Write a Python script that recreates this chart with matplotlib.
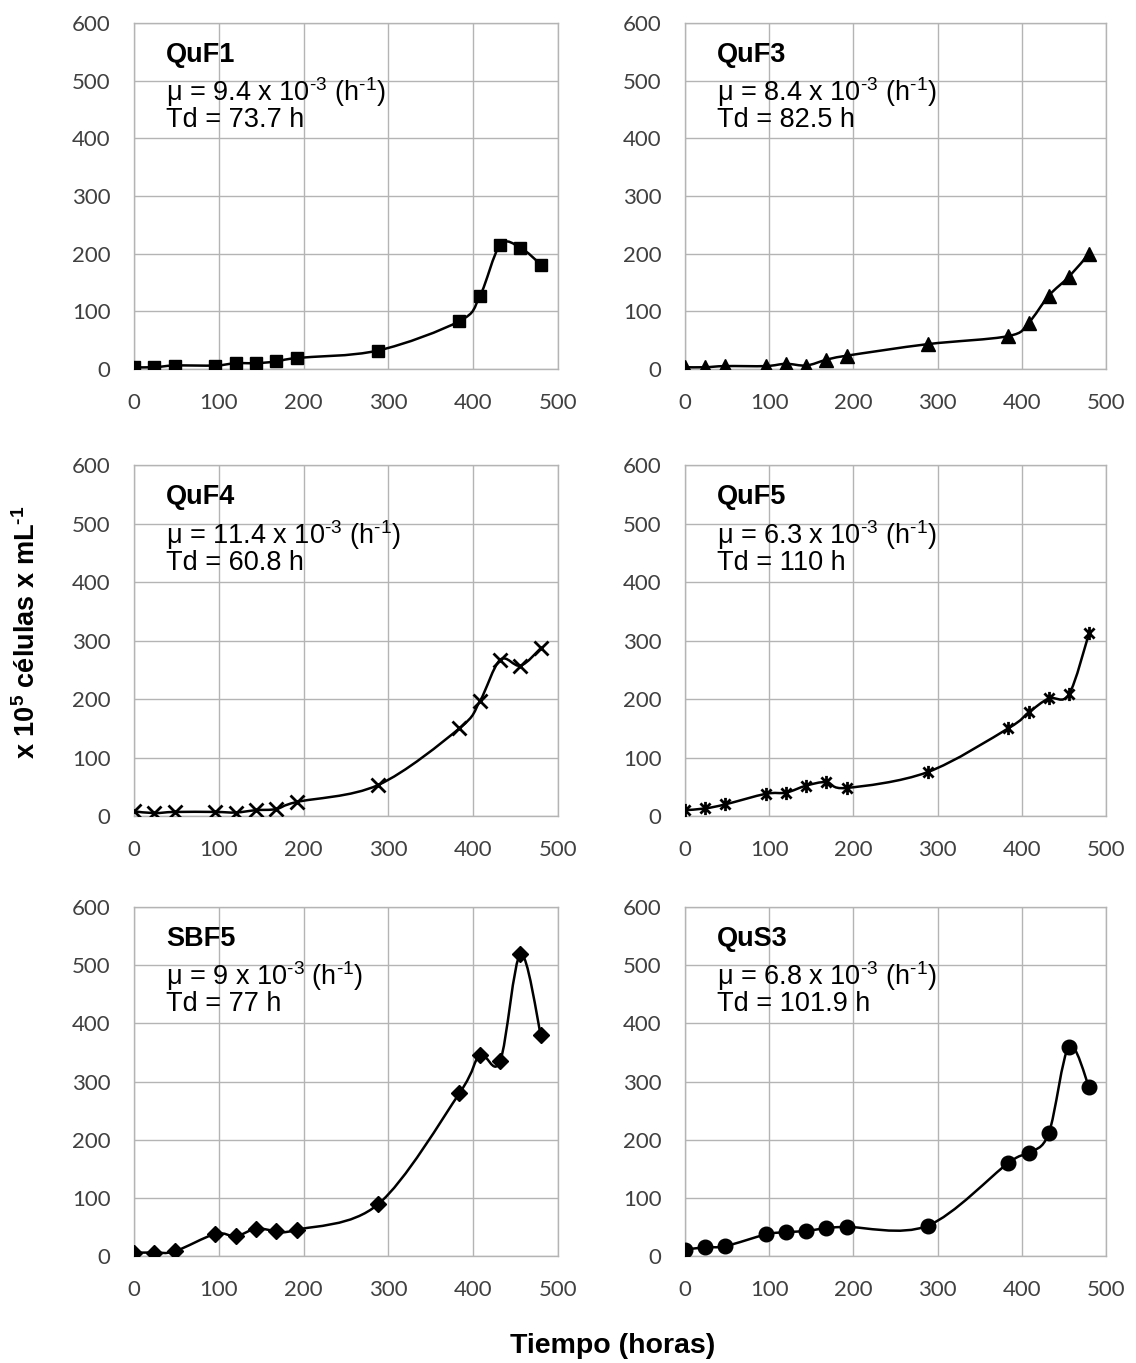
import numpy as np
import matplotlib
matplotlib.use("Agg")
import matplotlib.pyplot as plt
from matplotlib.path import Path
from matplotlib.patches import PathPatch

plt.rcParams["font.family"] = ["Liberation Sans", "DejaVu Sans"]
plt.rcParams["mathtext.fontset"] = "custom"
plt.rcParams["mathtext.rm"] = "Liberation Sans"
plt.rcParams["mathtext.it"] = "Liberation Sans:italic"
plt.rcParams["mathtext.bf"] = "Liberation Sans:bold"

# sampling times (hours)
horas = [0, 24, 48, 96, 120, 144, 168, 192, 288, 384, 408, 432, 456, 480]

# cell counts (x 10^5 cells / mL) per strain
quf1 = [3, 3, 6, 6, 10, 10, 13, 19, 32, 83, 126, 215, 210, 181]
quf3 = [3, 3, 5, 5, 9, 6, 16, 23, 43, 57, 80, 127, 160, 200]
quf4 = [8, 5, 7, 7, 6, 10, 12, 24, 53, 150, 196, 267, 257, 287]
quf5 = [10, 13, 20, 38, 40, 52, 58, 48, 75, 150, 177, 201, 208, 313]
sbf5 = [6, 6, 8, 38, 34, 47, 43, 45, 89, 280, 345, 335, 519, 380]
qus3 = [11, 15, 17, 37, 41, 43, 48, 50, 52, 160, 177, 211, 360, 290]

cepas = ["QuF1", "QuF3", "QuF4", "QuF5", "SBF5", "QuS3"]
mu = ["9.4", "8.4", "11.4", "6.3", "9", "6.8"]
td = ["73.7", "82.5", "60.8", "110", "77", "101.9"]
series = [quf1, quf3, quf4, quf5, sbf5, qus3]

# asterisk marker: an x crossed by a vertical bar
star = Path([(-1, -1), (1, 1), (-1, 1), (1, -1), (0, -1.3), (0, 1.3)],
            [Path.MOVETO, Path.LINETO, Path.MOVETO, Path.LINETO, Path.MOVETO, Path.LINETO])
marcadores = [("s", 8.5), ("^", 9.5), ("x", 9.5), (star, 9.5), ("D", 8), ("o", 10.5)]

HY = "\u2010"  # short hyphen for the superscripts


def smooth_path(x, y):
    # Catmull-Rom style bezier segments through the data points
    x = np.asarray(x, float)
    y = np.asarray(y, float)
    pts = np.column_stack([x, y])
    n = len(pts)
    verts = [pts[0]]
    codes = [Path.MOVETO]
    for i in range(n - 1):
        p0 = pts[i - 1] if i > 0 else pts[i]
        p1 = pts[i]
        p2 = pts[i + 1]
        p3 = pts[i + 2] if i + 2 < n else pts[i + 1]
        c1 = p1 + (p2 - p0) / 6.0
        c2 = p2 - (p3 - p1) / 6.0
        verts += [c1, c2, p2]
        codes += [Path.CURVE4] * 3
    return Path(verts, codes)


fig = plt.figure(figsize=(11.36, 13.63), dpi=100)

lefts = [0.118, 0.603]
rows = [(0.7293, 0.2539), (0.4013, 0.2575), (0.0785, 0.2560)]
widths = [0.373, 0.3706]

for k in range(6):
    r, c = divmod(k, 2)
    ax = fig.add_axes([lefts[c], rows[r][0], widths[c], rows[r][1]])
    ax.set_xlim(0, 500)
    ax.set_ylim(0, 600)
    ax.set_xticks(range(0, 501, 100))
    ax.set_yticks(range(0, 601, 100))
    ax.grid(True, color="#b4b4b4", linewidth=1.0)
    ax.set_axisbelow(True)
    for s in ax.spines.values():
        s.set_color("#b4b4b4")
        s.set_linewidth(1.0)
    ax.tick_params(length=0, labelsize=16, colors="#404040", pad=17)
    for lab in ax.get_xticklabels() + ax.get_yticklabels():
        lab.set_family("Lato")

    ax.add_patch(PathPatch(smooth_path(horas, series[k]), facecolor="none",
                           edgecolor="black", linewidth=1.8, zorder=3))
    m, ms = marcadores[k]
    ax.plot(horas, series[k], linestyle="none", marker=m, markersize=ms,
            color="black", markeredgewidth=2.0 if (m == "x" or m is star) else 1.0,
            zorder=4)

    ax.text(38, 567, cepas[k], fontsize=19.5, fontweight="bold", va="top", ha="left")
    ax.text(38, 510, "μ = " + mu[k] + " x 10$^{" + HY + "3}$ (h$^{" + HY + "1}$)",
            fontsize=19.5, va="top", ha="left")
    ax.text(38, 455, "Td = " + td[k] + " h", fontsize=19.5, va="top", ha="left")

fig.text(0.024, 0.536,
         "x 10$^{\\mathbf{5}}$ células x mL$^{\\mathbf{" + HY + "1}}$",
         rotation=90, fontsize=19.5, fontweight="bold", ha="center", va="center")
fig.text(0.539, 0.0125, "Tiempo (horas)", fontsize=20.5, fontweight="bold",
         ha="center", va="center")

fig.savefig("out.png", dpi=100, facecolor="white")
